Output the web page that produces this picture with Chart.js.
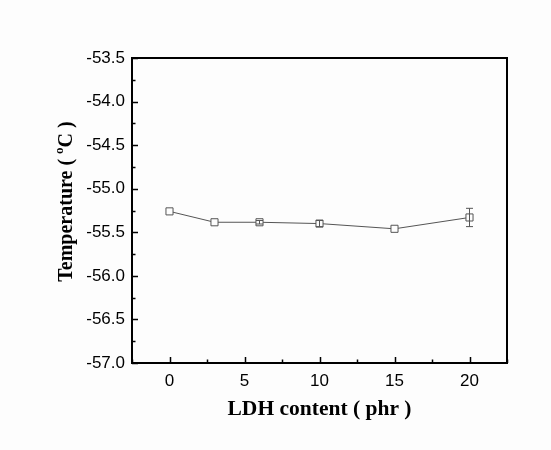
<!DOCTYPE html>
<html>
<head>
<meta charset="utf-8">
<script src="https://cdn.jsdelivr.net/npm/chart.js@4/dist/chart.umd.min.js"></script>
<style>
  html, body { margin: 0; padding: 0; background: #fdfdfd; }
  #wrap { width: 551px; height: 450px; }
</style>
</head>
<body>
<div id="wrap"><canvas id="chart"></canvas></div>
<script>
// LDH content (phr) vs temperature
const ldhContent = [0, 3, 6, 10, 15, 20];
const temperature = [-55.26, -55.385, -55.385, -55.40, -55.46, -55.33];
const tempError = [0, 0, 0.02, 0.035, 0, 0.105];

const xTicks = [0, 5, 10, 15, 20];
const xMinor = [-2.5, 2.5, 7.5, 12.5, 17.5, 22.5];
const yTicks = [-57.0, -56.5, -56.0, -55.5, -55.0, -54.5, -54.0, -53.5];
const yMinor = [-56.75, -56.25, -55.75, -55.25, -54.75, -54.25, -53.75];

const serif = "'Liberation Serif', 'Times New Roman', serif";
const sans = "'Liberation Sans', Arial, sans-serif";

// error bars, frame, inward ticks and the y title (needs a superscript o)
const framePlugin = {
  id: 'frame',
  beforeDraw(chart) {
    const ctx = chart.ctx;
    ctx.save();
    ctx.fillStyle = '#fdfdfd';
    ctx.fillRect(0, 0, chart.width, chart.height);
    ctx.restore();
  },
  afterDatasetsDraw(chart) {
    const ctx = chart.ctx;
    const xs = chart.scales.x, ys = chart.scales.y;
    ctx.save();
    ctx.strokeStyle = '#555';
    ctx.lineWidth = 1;
    ldhContent.forEach((x, i) => {
      const err = tempError[i];
      if (!err) return;
      const px = xs.getPixelForValue(x);
      const top = ys.getPixelForValue(temperature[i] + err);
      const bot = ys.getPixelForValue(temperature[i] - err);
      ctx.beginPath();
      ctx.moveTo(px, top); ctx.lineTo(px, bot);
      ctx.moveTo(px - 3.5, top); ctx.lineTo(px + 3.5, top);
      ctx.moveTo(px - 3.5, bot); ctx.lineTo(px + 3.5, bot);
      ctx.stroke();
    });
    ctx.restore();
  },
  afterDraw(chart) {
    const ctx = chart.ctx;
    const a = chart.chartArea;
    const xs = chart.scales.x, ys = chart.scales.y;
    ctx.save();
    ctx.strokeStyle = '#000';
    ctx.lineWidth = 1.5;
    ctx.beginPath();
    xTicks.forEach(v => {
      const p = Math.round(xs.getPixelForValue(v)) + 0.5;
      ctx.moveTo(p, a.bottom); ctx.lineTo(p, a.bottom - 6);
    });
    xMinor.forEach(v => {
      const p = Math.round(xs.getPixelForValue(v)) + 0.5;
      ctx.moveTo(p, a.bottom); ctx.lineTo(p, a.bottom - 3.5);
    });
    yTicks.forEach(v => {
      const p = Math.round(ys.getPixelForValue(v)) + 0.5;
      ctx.moveTo(a.left, p); ctx.lineTo(a.left + 6, p);
    });
    yMinor.forEach(v => {
      const p = Math.round(ys.getPixelForValue(v)) + 0.5;
      ctx.moveTo(a.left, p); ctx.lineTo(a.left + 3.5, p);
    });
    ctx.stroke();
    ctx.lineWidth = 2;
    ctx.strokeRect(a.left, a.top, a.right - a.left, a.bottom - a.top);

    // y axis title, rotated
    const big = 'bold 20px ' + serif;
    const small = 'bold 13px ' + serif;
    const parts = [['Temperature ( ', big, 0], ['o', small, -9], ['C )', big, 0]];
    let total = 0;
    parts.forEach(p => { ctx.font = p[1]; total += ctx.measureText(p[0]).width; });
    ctx.translate(72, (a.top + a.bottom) / 2 - 9);
    ctx.rotate(-Math.PI / 2);
    ctx.fillStyle = '#000';
    ctx.textBaseline = 'alphabetic';
    let pos = -total / 2;
    parts.forEach(p => {
      ctx.font = p[1];
      ctx.fillText(p[0], pos, p[2]);
      pos += ctx.measureText(p[0]).width;
    });
    ctx.restore();
  }
};

new Chart(document.getElementById('chart'), {
  type: 'line',
  data: {
    datasets: [{
      data: ldhContent.map((x, i) => ({ x: x, y: temperature[i] })),
      borderColor: '#555',
      borderWidth: 1,
      pointStyle: 'rect',
      pointRadius: 5,
      pointBorderWidth: 1,
      pointBorderColor: '#555',
      pointBackgroundColor: '#fdfdfd',
      tension: 0
    }]
  },
  options: {
    responsive: true,
    maintainAspectRatio: false,
    animation: false,
    layout: { padding: { left: 0, right: 44, top: 58, bottom: 0 } },
    plugins: { legend: { display: false }, tooltip: { enabled: false } },
    scales: {
      x: {
        type: 'linear',
        min: -2.5,
        max: 22.5,
        afterBuildTicks: s => { s.ticks = xTicks.map(v => ({ value: v })); },
        afterFit: s => { s.height = 87; },
        grid: { display: false, drawTicks: false },
        border: { display: false },
        ticks: { color: '#000', padding: 8, font: { family: sans, size: 17 } },
        title: {
          display: true,
          text: 'LDH content ( phr )',
          color: '#000',
          padding: { top: 0, bottom: 28 },
          font: { family: serif, size: 21.5, weight: 'bold' }
        }
      },
      y: {
        min: -57.0,
        max: -53.5,
        afterBuildTicks: s => { s.ticks = yTicks.map(v => ({ value: v })); },
        afterFit: s => { s.width = 132; },
        grid: { display: false, drawTicks: false },
        border: { display: false },
        ticks: {
          color: '#000',
          padding: 7,
          font: { family: sans, size: 17 },
          callback: v => v.toFixed(1)
        },
        title: { display: false }
      }
    }
  },
  plugins: [framePlugin]
});
</script>
</body>
</html>
